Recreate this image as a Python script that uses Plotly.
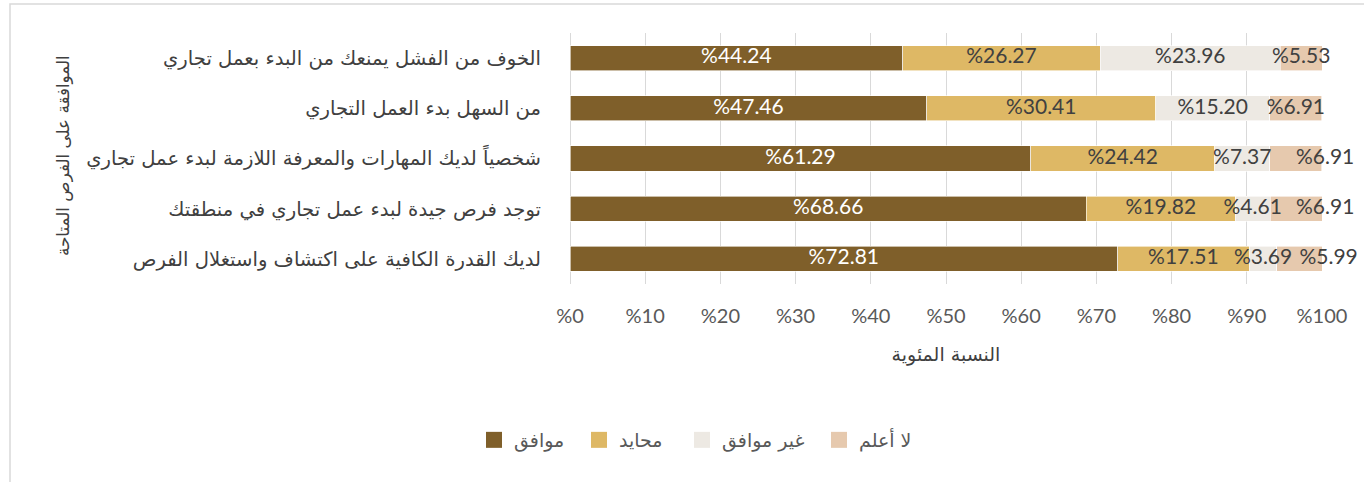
import plotly.graph_objects as go

categories = [
    "الخوف من الفشل يمنعك من البدء بعمل تجاري",
    "من السهل بدء العمل التجاري",
    "شخصياً لديك المهارات والمعرفة اللازمة لبدء عمل تجاري",
    "توجد فرص جيدة لبدء عمل تجاري في منطقتك",
    "لديك القدرة الكافية على اكتشاف واستغلال الفرص",
]
series_names = ["موافق", "محايد", "غير موافق", "لا أعلم"]
agree = [44.24, 47.46, 61.29, 68.66, 72.81]
neutral = [26.27, 30.41, 24.42, 19.82, 17.51]
disagree = [23.96, 15.20, 7.37, 4.61, 3.69]
dont_know = [5.53, 6.91, 6.91, 6.91, 5.99]
x_tick_values = [0, 10, 20, 30, 40, 50, 60, 70, 80, 90, 100]
x_tick_labels = ["%" + str(v) for v in x_tick_values]
x_title = "النسبة المئوية"
y_title = "الموافقة على الفرص المتاحة"

colors = ["#7F5F2A", "#DEB865", "#EDE9E3", "#E6C9AE"]
text_colors = ["#FFFFFF", "#404040", "#404040", "#404040"]
# label placement per series (last series labels pushed right where crowded)
label_positions = [
    ["middle center"] * 5,
    ["middle center"] * 5,
    ["middle center"] * 5,
    ["middle center", "middle center", "middle right", "middle right", "middle right"],
]
# pixel x of each legend swatch (left edge) in the reference layout
legend_px = [486, 591, 694, 831]
num_font = "Lato, Carlito, Calibri, sans-serif"
ar_font = "DejaVu Sans, Noto Sans, sans-serif"

all_series = [agree, neutral, disagree, dont_know]

fig = go.Figure()
for name, vals, c in zip(series_names, all_series, colors):
    fig.add_trace(go.Bar(
        y=categories, x=vals, name=name, orientation="h",
        marker=dict(color=c, line=dict(color="#FFFFFF", width=0.6)),
        showlegend=False, hoverinfo="x+y+name",
    ))

# data labels on top of all bars, centred on each segment
base = [0.0] * len(categories)
for vals, tc, pos in zip(all_series, text_colors, label_positions):
    centers = [b + v / 2 for b, v in zip(base, vals)]
    fig.add_trace(go.Scatter(
        y=categories, x=centers, mode="text",
        text=["%" + f"{v:.2f}" for v in vals], textposition=pos,
        textfont=dict(family=num_font, size=21, color=tc),
        showlegend=False, hoverinfo="skip", cliponaxis=False,
    ))
    base = [b + v for b, v in zip(base, vals)]

# legend entries, one small legend per series
legend_ids = ["legend", "legend2", "legend3", "legend4"]
for name, c, lid in zip(series_names, colors, legend_ids):
    fig.add_trace(go.Scatter(
        x=[None], y=[None], mode="markers", name=name, legend=lid,
        marker=dict(symbol="square", size=19, color=c),
    ))

legend_layout = {}
for lid, px in zip(legend_ids, legend_px):
    legend_layout[lid] = dict(
        orientation="h", x=(px - 12 - 570) / 752, xanchor="left",
        y=(284 - 440) / 251, yanchor="middle",
        font=dict(family=ar_font, size=19, color="#595959"),
        itemwidth=30, bgcolor="rgba(0,0,0,0)",
    )

fig.update_layout(
    barmode="stack", bargap=0.5,
    width=1364, height=482,
    margin=dict(l=570, r=42, t=33, b=198),
    paper_bgcolor="#FFFFFF", plot_bgcolor="#FFFFFF",
    showlegend=True,
    **legend_layout,
    xaxis=dict(range=[0, 100], tickvals=x_tick_values, ticktext=x_tick_labels,
               showgrid=True, gridcolor="#D9D9D9", gridwidth=1,
               zeroline=True, zerolinecolor="#D9D9D9", zerolinewidth=1,
               showline=False, ticks="", ticklabelstandoff=18,
               tickfont=dict(family=num_font, size=20, color="#595959"),
               title=dict(text=x_title, standoff=21,
                          font=dict(family=ar_font, size=19, color="#404040"))),
    yaxis=dict(autorange="reversed", showgrid=False, showline=False, ticks="",
               ticklabelstandoff=28, automargin=False,
               tickfont=dict(family=ar_font, size=19.6, color="#404040")),
    annotations=[dict(text=y_title, textangle=-90, xref="paper", yref="paper",
                      x=(63 - 570) / 752, y=(284 - 156) / 251, xanchor="center", yanchor="middle",
                      showarrow=False, font=dict(family=ar_font, size=16.8, color="#404040"))],
    shapes=[dict(type="rect", xref="paper", yref="paper",
                 x0=(10 - 570) / 752, x1=(1380 - 570) / 752,
                 y0=(284 - 500) / 251, y1=(284 - 4) / 251,
                 line=dict(color="#D9D9D9", width=1.5), fillcolor="rgba(0,0,0,0)", layer="below")],
)

fig.write_html("out.html", config={"displayModeBar": False},
               post_script="document.body.style.margin='0';")
